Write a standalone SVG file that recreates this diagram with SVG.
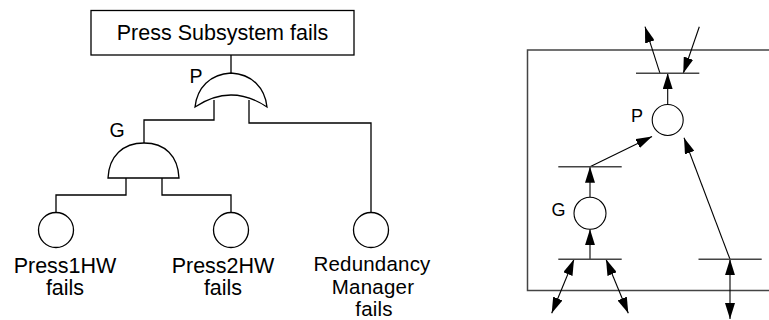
<svg xmlns="http://www.w3.org/2000/svg" width="769" height="320" viewBox="0 0 769 320">
  <style>
    text { font-family: "Liberation Sans", Arial, sans-serif; fill: #000; }
    .lbl { font-size: 21.5px; text-anchor: middle; }
    .lbl3 { font-size: 20.5px; text-anchor: middle; letter-spacing: 0.2px; }
    .tag { font-size: 19.5px; }
    .tag-s { font-size: 18px; }
    .ln { fill: none; stroke: #000; stroke-width: 1.3; }
    .shape { fill: #fff; stroke: #000; stroke-width: 1.3; }
    .frame { fill: none; stroke: #444; stroke-width: 1.5; }
    .bar { stroke: #444; stroke-width: 1.5; }
    .arc { fill: none; stroke: #000; stroke-width: 1.1; marker-end: url(#ah); }
    .arc2 { fill: none; stroke: #000; stroke-width: 1.1; marker-start: url(#ah); marker-end: url(#ah); }
    .place { fill: #fff; stroke: #000; stroke-width: 1.1; }
  </style>
  <defs>
    <marker id="ah" viewBox="0 0 16 10" refX="16" refY="5" markerWidth="16" markerHeight="10" markerUnits="userSpaceOnUse" orient="auto-start-reverse">
      <path d="M0,0 L16,5 L0,10 Z" fill="#000"/>
    </marker>
  </defs>

  <rect width="769" height="320" fill="#fff"/>

  <!-- fault tree wiring -->
  <g id="tree-connectors">
    <path class="ln" d="M231,55 V80"/>
    <path class="ln" d="M214,100 V120 H144 V150"/>
    <path class="ln" d="M249,100 V123 H371 V212.5"/>
    <path class="ln" d="M126,170 V195 H56 V212.5"/>
    <path class="ln" d="M162,170 V195 H231 V212.5"/>
  </g>

  <g id="top-event">
    <rect class="shape" x="91" y="10.5" width="263" height="44.5"/>
    <text class="lbl" x="222.5" y="40">Press Subsystem fails</text>
  </g>

  <g id="gate-P">
    <path class="shape" d="M195,107 C197,88 210,74 231,73 C252,74 265,88 267,107 Q231,83 195,107 Z"/>
    <text class="tag" x="189.5" y="83">P</text>
  </g>

  <g id="gate-G">
    <path class="shape" d="M108,178 C109,156 123,143 144,143 C165,143 178,156 179,178 Z"/>
    <text class="tag" x="109.5" y="137">G</text>
  </g>

  <g id="event-press1hw">
    <circle class="shape" cx="56" cy="230" r="17.5"/>
    <text class="lbl" x="65" y="272.5">Press1HW</text>
    <text class="lbl" x="65" y="295">fails</text>
  </g>

  <g id="event-press2hw">
    <circle class="shape" cx="231" cy="230" r="17.5"/>
    <text class="lbl" x="223" y="272.5">Press2HW</text>
    <text class="lbl" x="223" y="295">fails</text>
  </g>

  <g id="event-redundancy">
    <circle class="shape" cx="371" cy="230" r="17.5"/>
    <text class="lbl3" x="372" y="270.5">Redundancy</text>
    <text class="lbl3" x="373" y="293.5">Manager</text>
    <text class="lbl3" x="374" y="316">fails</text>
  </g>

  <!-- Petri net -->
  <g id="net-frame">
    <rect class="frame" x="527.5" y="50" width="260" height="240.5"/>
  </g>

  <g id="net-connectors">
    <path class="arc" d="M660,73.3 L645,26.7"/>
    <path class="arc" d="M699.3,26.7 L683.3,73.3"/>
    <path class="arc" d="M667.7,104.5 V73.3"/>
    <path class="arc" d="M590,166.7 L652,136.5"/>
    <path class="arc" d="M590,197.3 V166.7"/>
    <path class="arc" d="M590,259.3 V229.3"/>
    <path class="arc" d="M730,259.3 L684,137.7"/>
    <path class="arc2" d="M574,259.3 L551.7,313.3"/>
    <path class="arc2" d="M606,259.3 L628.3,313.3"/>
    <path class="arc2" d="M730,259.3 V319"/>
  </g>

  <g id="t-top">
    <line class="bar" x1="636" y1="73.3" x2="699.3" y2="73.3"/>
  </g>
  <g id="t-mid">
    <line class="bar" x1="558.3" y1="166.7" x2="621.7" y2="166.7"/>
  </g>
  <g id="t-low-left">
    <line class="bar" x1="558.3" y1="259.3" x2="621.7" y2="259.3"/>
  </g>
  <g id="t-low-right">
    <line class="bar" x1="698.5" y1="259.3" x2="761.7" y2="259.3"/>
  </g>

  <g id="place-P">
    <circle class="place" cx="667.7" cy="120" r="15.5"/>
    <text class="tag-s" x="631" y="121.5">P</text>
  </g>

  <g id="place-G">
    <circle class="place" cx="590" cy="213.3" r="16"/>
    <text class="tag-s" x="551.5" y="216">G</text>
  </g>
</svg>
